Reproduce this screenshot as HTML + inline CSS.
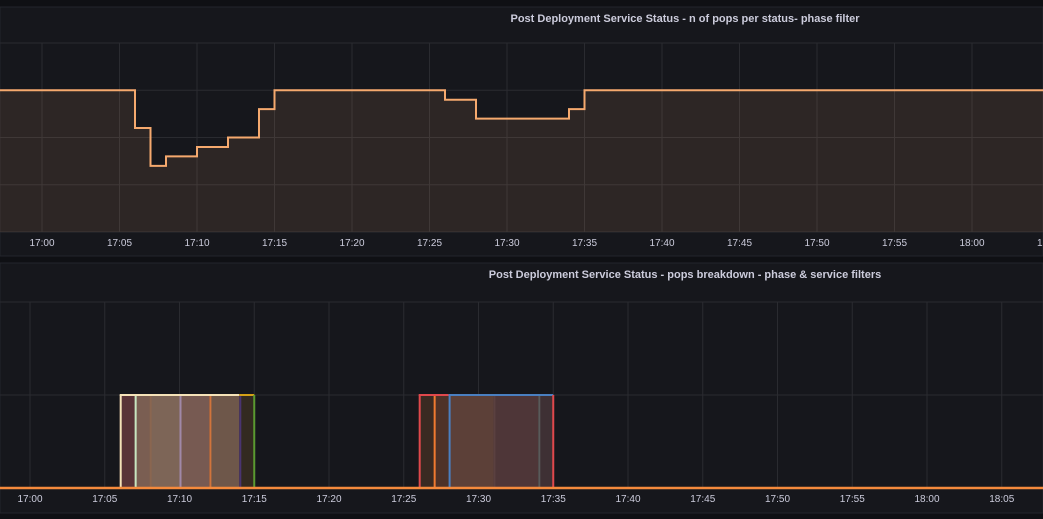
<!DOCTYPE html>
<html><head><meta charset="utf-8"><style>
html,body{margin:0;padding:0;background:#0f1014;width:1043px;height:519px;overflow:hidden;font-family:"Liberation Sans",sans-serif}
svg{display:block}
</style></head><body>
<svg id="svg" width="1043" height="519" xmlns="http://www.w3.org/2000/svg">
<rect x="0" y="0" width="1043" height="519" fill="#0f1014"/>
<rect x="0" y="7" width="1043" height="249" fill="#16171c" stroke="#23252b"/>
<rect x="0" y="263" width="1043" height="250" fill="#16171c" stroke="#23252b"/>
<text x="685" y="22" fill="#ccccdc" font-size="11" font-weight="bold" text-anchor="middle">Post Deployment Service Status - n of pops per status- phase filter</text>
<text x="685" y="278" fill="#ccccdc" font-size="11" font-weight="bold" text-anchor="middle">Post Deployment Service Status - pops breakdown - phase &amp; service filters</text>
<g id="topG"></g><g id="botG"></g>
</svg>
<script>
const NS='http://www.w3.org/2000/svg';
// top chart data (minutes after 17:00)
const topTimes=[-10,6,7,8,10,12,14,15,26,28,34,35,70];
const topValues=[3,2.2,1.4,1.6,1.8,2,2.6,3,2.8,2.4,2.6,3,3];
const topTicks=['17:00','17:05','17:10','17:15','17:20','17:25','17:30','17:35','17:40','17:45','17:50','17:55','18:00','18:05'];
// bottom chart data
const botTicks=['17:00','17:05','17:10','17:15','17:20','17:25','17:30','17:35','17:40','17:45','17:50','17:55','18:00','18:05'];
const segStart=[6,7,8,10,12,14,26,27,28,31,34];
const segEnd=[7,8,10,12,14,15,27,28,31,34,35];
const segFill=['#5a3438','#7a5e52','#7d6557','#775a52','#6e574a','#332a20','#3a2a22','#4e3228','#5c4038','#4e3638','#3e3034'];
const segEdge=['#f5e2b8','#c8e6c0','#8a6650','#a088a8','#d0743c','#4a3470','#e0484c','#f07a30','#4a7fc0','#5a4040','#5a5a5a'];
const segValue=[1,1,1,1,1,1,1,1,1,1,1];
function el(tag,a,p){const e=document.createElementNS(NS,tag);for(const k in a)e.setAttribute(k,a[k]);p.appendChild(e);return e;}
const tx=m=>42+m*15.5, ty=v=>232-v*47.25;
const bx=m=>30+m*14.95, by=v=>488-v*93;
const topG=document.getElementById('topG'), botG=document.getElementById('botG');
for(let i=0;i<=4;i++){const g=el('line',{x1:0,x2:1043,y1:ty(i),y2:ty(i),stroke:'#2a2b30'},topG);}
topTicks.forEach((t,i)=>{const x=tx(i*5);
 const g=el('line',{x1:x,x2:x,y1:ty(4),y2:ty(0),stroke:'#2a2b30'},topG);
 const l=el('text',{x:x,y:246,fill:'#ccccdc','font-size':10,'text-anchor':'middle'},topG);l.textContent=t;});
let d='M'+tx(topTimes[0])+' '+ty(topValues[0]);
for(let i=1;i<topTimes.length;i++){d+=' H'+tx(topTimes[i])+' V'+ty(topValues[i]);}
const area=el('path',{d:d+' V'+ty(0)+' H'+tx(topTimes[0])+' Z',fill:'rgba(255,180,120,0.1)'},topG);

const ln=el('path',{d:d,fill:'none',stroke:'#f5a96e','stroke-width':2},topG);

[by(1),by(2)].forEach(y=>{const g=el('line',{x1:0,x2:1043,y1:y,y2:y,stroke:'#2a2b30'},botG);});
botTicks.forEach((t,i)=>{const x=bx(i*5);
 const g=el('line',{x1:x,x2:x,y1:by(2),y2:by(0),stroke:'#2a2b30'},botG);
 const l=el('text',{x:x,y:502,fill:'#ccccdc','font-size':10,'text-anchor':'middle'},botG);l.textContent=t;});
segStart.forEach((s,i)=>{const x0=bx(s),x1=bx(segEnd[i]),y=by(segValue[i]);
 const r=el('rect',{x:x0,y:y,width:x1-x0,height:by(0)-y,fill:segFill[i]},botG);
 const e=el('line',{x1:x0+1,x2:x0+1,y1:y,y2:by(0),stroke:segEdge[i],'stroke-width':2},botG);});
const tops=[[6,14,'#f5e2b8'],[14,15,'#d4a017'],[26,28,'#e0484c'],[28,35,'#4a7fc0']];
tops.forEach(t=>{const l=el('line',{x1:bx(t[0]),x2:bx(t[1]),y1:by(1),y2:by(1),stroke:t[2],'stroke-width':2},botG);});
[[15,'#5a9a30'],[35,'#e0484c']].forEach(t=>{const l=el('line',{x1:bx(t[0]),x2:bx(t[0]),y1:by(1),y2:by(0),stroke:t[1],'stroke-width':2},botG);});
const base=el('line',{x1:0,x2:1043,y1:by(0),y2:by(0),stroke:'#f58a3c','stroke-width':2.5},botG);

</script>
</body></html>
